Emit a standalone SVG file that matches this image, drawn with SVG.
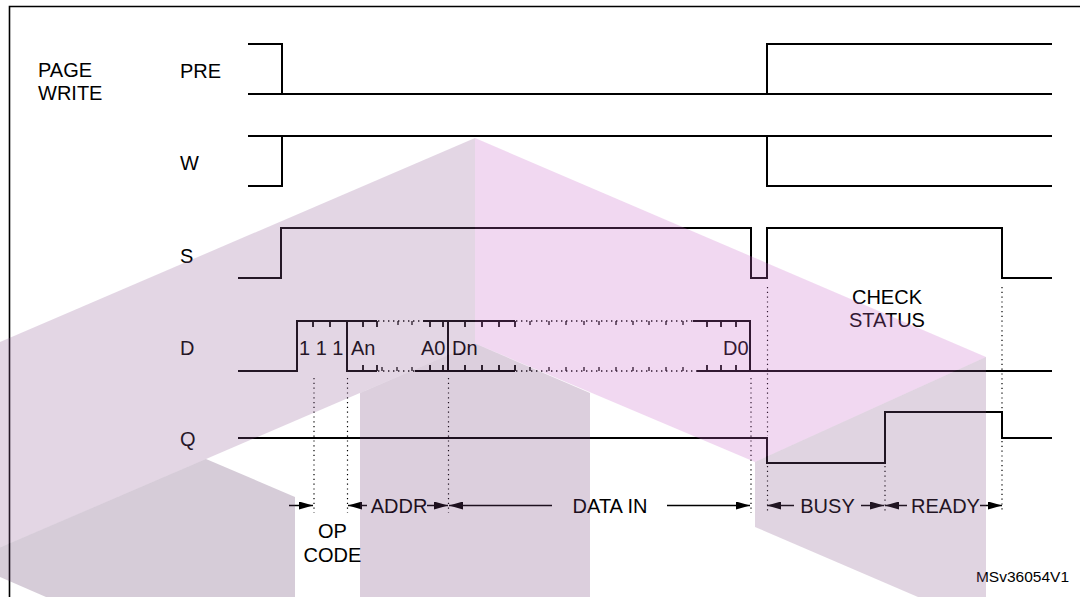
<svg xmlns="http://www.w3.org/2000/svg" width="1080" height="597" viewBox="0 0 1080 597">
<defs>
<style>
.sig{fill:none;stroke:#000;stroke-width:2;stroke-linejoin:miter}
.tk{stroke:#000;stroke-width:1.8}
.mt{stroke:#000;stroke-width:1.3}
.dt{stroke:#000;stroke-width:1.4;stroke-dasharray:1.4 3.6}
.gd{stroke:#000;stroke-width:1.2;stroke-dasharray:1.2 3.6;fill:none}
.ar{stroke:#000;stroke-width:1.5;fill:none}
.t{font-family:"Liberation Sans",Arial,sans-serif;font-size:20px;fill:#000}
.c{text-anchor:middle}
</style>
<marker id="ah" markerUnits="userSpaceOnUse" markerWidth="14" markerHeight="8" refX="14" refY="4" orient="auto">
<path d="M0,0 L14,4 L0,8 z" fill="#000"/>
</marker>
</defs>
<rect x="0" y="0" width="1080" height="597" fill="#fff"/>
<path d="M9.5,597 V6.5 H1080" fill="none" stroke="#000" stroke-width="1.6"/>

<g id="labels">
<text class="t" x="38" y="77">PAGE</text>
<text class="t" x="38" y="100">WRITE</text>
</g>

<g id="sig-PRE">
<text class="t" x="180" y="78">PRE</text>
<path class="sig" d="M248,44 H282 V94"/>
<path class="sig" d="M248,94 H1052"/>
<path class="sig" d="M767,94 V44 H1052"/>
</g>

<g id="sig-W">
<text class="t" x="180" y="170">W</text>
<path class="sig" d="M248,136 H1052"/>
<path class="sig" d="M248,186 H282 V136"/>
<path class="sig" d="M767,136 V186 H1052"/>
</g>

<g id="sig-S">
<text class="t" x="180" y="263">S</text>
<path class="sig" d="M238,278 H281 V228 H751 V278 H767 V228 H1002 V278 H1052"/>
</g>

<g id="sig-D">
<text class="t" x="180" y="355">D</text>
<path class="sig" d="M238,371 H297 V321 H377"/>
<path class="sig" d="M347,321 V371 H377"/>
<path class="sig" d="M423,321 H515"/>
<path class="sig" d="M415,371 H515"/>
<path class="sig" d="M448,321 V371"/>
<path class="sig" d="M693,321 H750 V371 H1052"/>
<path class="sig" d="M697,371 H750"/>
<line class="dt" x1="378" y1="321" x2="423" y2="321"/>
<line class="dt" x1="378" y1="371" x2="415" y2="371"/>
<line class="dt" x1="516" y1="321" x2="693" y2="321"/>
<line class="dt" x1="516" y1="371" x2="697" y2="371"/>
<path class="tk" d="M313,321 v6 M330,321 v6 M363,321 v6 M377,321 v6 M430,321 v6 M443,321 v6 M465,321 v6 M482,321 v6 M499,321 v6 M515,321 v6 M707,321 v6 M721,321 v6 M736,321 v6"/>
<path class="tk" d="M363,371 v-6 M377,371 v-6 M430,371 v-6 M443,371 v-6 M465,371 v-6 M482,371 v-6 M499,371 v-6 M515,371 v-6 M707,371 v-6 M721,371 v-6 M736,371 v-6"/>
<path class="mt" d="M398,321 v4 M412,321 v4 M530,321 v4 M549,321 v4 M566,321 v4 M584,321 v4 M599,321 v4 M616,321 v4 M633,321 v4 M649,321 v4 M666,321 v4 M683,321 v4"/>
<path class="mt" d="M382,371 v-4 M397,371 v-4 M412,371 v-4 M530,371 v-4 M549,371 v-4 M566,371 v-4 M584,371 v-4 M599,371 v-4 M616,371 v-4 M633,371 v-4 M649,371 v-4 M666,371 v-4 M683,371 v-4"/>
<text class="t" x="299" y="355">1 1 1</text>
<text class="t" x="351" y="355">An</text>
<text class="t" x="421" y="355">A0</text>
<text class="t" x="452" y="355">Dn</text>
<text class="t" x="723" y="355">D0</text>
</g>

<g id="sig-Q">
<text class="t" x="180" y="446">Q</text>
<path class="sig" d="M238,438 H767 V463 H885 V412 H1002 V438 H1052"/>
</g>

<g id="check-status">
<text class="t c" x="887" y="304">CHECK</text>
<text class="t c" x="887" y="327">STATUS</text>
</g>

<g id="connectors">
<path class="gd" d="M314,378 V513 M347.5,378 V513 M448.5,378 V513 M751,378 V513 M767.5,287 V436 M767.5,466 V513 M885,466 V513 M1002,287 V410 M1002,441 V513"/>
<line class="ar" x1="289" y1="505.5" x2="313" y2="505.5" marker-end="url(#ah)"/>
<line class="ar" x1="367" y1="505.5" x2="348" y2="505.5" marker-end="url(#ah)"/>
<line class="ar" x1="427" y1="505.5" x2="448" y2="505.5" marker-end="url(#ah)"/>
<line class="ar" x1="552" y1="505.5" x2="449" y2="505.5" marker-end="url(#ah)"/>
<line class="ar" x1="667" y1="505.5" x2="750" y2="505.5" marker-end="url(#ah)"/>
<line class="ar" x1="794" y1="505.5" x2="767" y2="505.5" marker-end="url(#ah)"/>
<line class="ar" x1="861" y1="505.5" x2="884" y2="505.5" marker-end="url(#ah)"/>
<line class="ar" x1="907" y1="505.5" x2="885" y2="505.5" marker-end="url(#ah)"/>
<line class="ar" x1="980" y1="505.5" x2="1002" y2="505.5" marker-end="url(#ah)"/>
</g>

<g id="phase-labels">
<text class="t c" x="332.5" y="538">OP</text>
<text class="t c" x="332.5" y="562">CODE</text>
<text class="t c" x="399" y="513">ADDR</text>
<text class="t c" x="610" y="513">DATA IN</text>
<text class="t c" x="827.5" y="513">BUSY</text>
<text class="t c" x="945.5" y="513">READY</text>
<text x="1069" y="582" font-family="Liberation Sans, Arial, sans-serif" font-size="15.5" text-anchor="end">MSv36054V1</text>
</g>

<g id="watermark" fill-opacity="0.25">
<polygon points="0,342 475,138 475,343.5 0,547.6" fill="rgb(143,91,147)"/>
<polygon points="475,138 986,357 755,462 475,343.5" fill="rgb(199,99,199)"/>
<polygon points="360,393 475,343.5 590,393 590,597 360,597" fill="rgb(115,63,119)"/>
<polygon points="0,547.6 206,459 295,497 295,597 46,597 0,577" fill="rgb(91,51,99)"/>
<polygon points="755,462 986,357 986,597 918,597 755,527" fill="rgb(131,83,135)"/>
</g>
</svg>
